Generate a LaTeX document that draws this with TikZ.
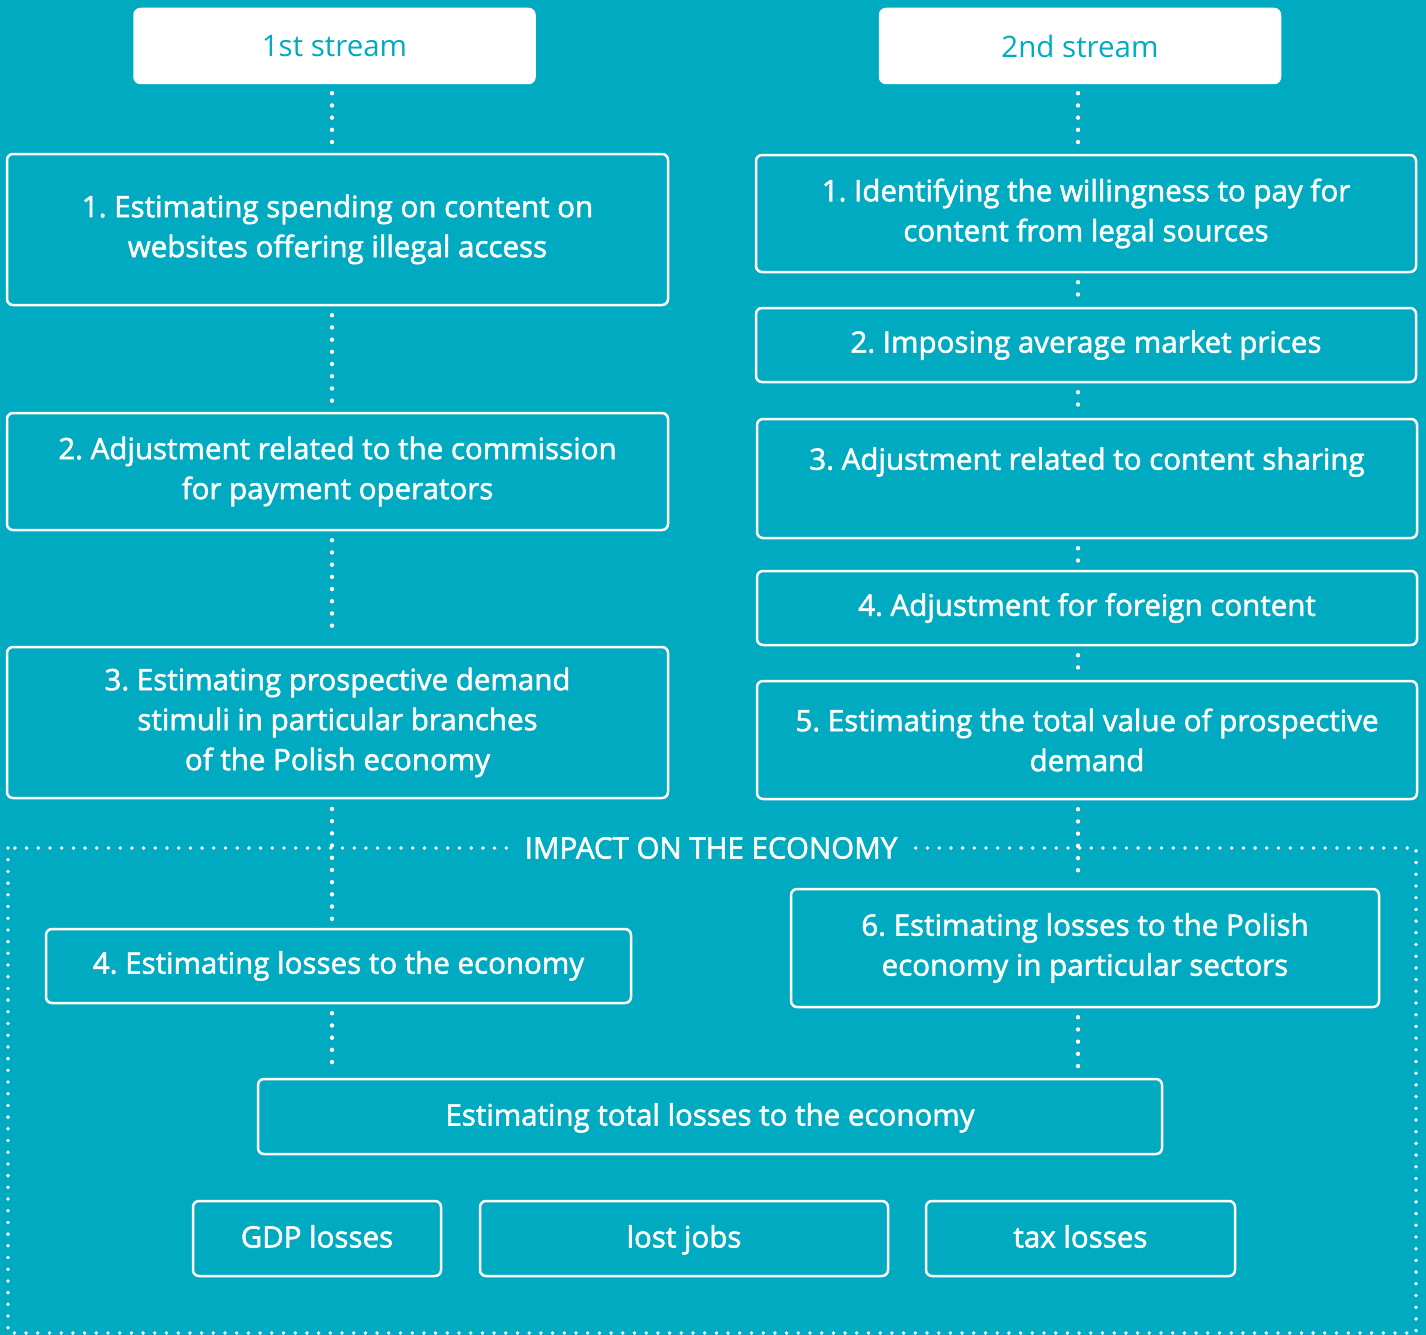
\documentclass[tikz,border=0pt]{standalone}
\usepackage{fontspec}
\setmainfont{Open Sans}[RawFeature={embolden=1.8}]
\newfontfamily\headfont{Open Sans}
\frenchspacing
\definecolor{bgteal}{HTML}{00ABC1}
\tikzset{box/.style 2 args={draw=white, line width=2.5pt, rounded corners=6pt,
                            text=white, align=center, inner sep=0pt,
                            minimum width=#1, minimum height=#2,
                            font=\fontsize{29.5}{40}\selectfont}}
\tikzset{head/.style={box={400}{74}, fill=white, text=bgteal,
                      font=\headfont\fontsize{29.5}{40}\selectfont}}
\tikzset{oneline/.style={text height=24pt, text depth=6pt}}
\tikzset{link/.style={draw=white, line width=4.4pt, line cap=round,
                      dash pattern=on 0pt off 12.2pt,
                      shorten <=9pt, shorten >=9pt}}
\tikzset{frame/.style={draw=white, line width=3.8pt, line cap=round,
                       dash pattern=on 0pt off 11.7pt}}
\begin{document}
\begin{tikzpicture}[x=1pt, y=-1pt]
                \fill[bgteal] (0,0) rectangle (1426,1335);
                \useasboundingbox (0,0) rectangle (1426,1335);

                \coordinate (lx) at (332,0);
                \coordinate (rx) at (1078,0);

                % impact frame
                \draw[frame] (8,848) rectangle (1416,1333);
                \node[fill=bgteal, inner xsep=14pt, text=white,
                      font=\fontsize{29.5}{40}\selectfont] (impact) at (711,848) {IMPACT ON THE ECONOMY};

                % 1st stream
                \node[head] (head1) at (334.5,46) {1st stream};
                \node[box={661}{151}] (l1) at (337.5,229.5) {1. Estimating spending on content on\\websites offering illegal access};
                \node[box={661}{117}] (l2) at (337.5,471.5) {2. Adjustment related to the commission\\for payment operators};
                \node[box={661}{151}] (l3) at (337.5,722.5) {3. Estimating prospective demand\\stimuli in particular branches\\of the Polish economy};
                \node[box={585}{74}] (l4) at (338.5,966) {4. Estimating losses to the economy};

                \draw[link] (head1.south -| lx) -- (l1.north -| lx);
                \draw[link] (l1.south -| lx) -- (l2.north -| lx);
                \draw[link] (l2.south -| lx) -- (l3.north -| lx);
                \draw[link] (l4.north -| lx) -- (l3.south -| lx);

                % 2nd stream
                \node[head] (head2) at (1080,46) {2nd stream};
                \node[box={660}{117}] (r1) at (1086,213.5) {1. Identifying the willingness to pay for\\content from legal sources};
                \node[box={660}{74}] (r2) at (1086,345) {2. Imposing average market prices};
                \node[box={660}{119}] (r3) at (1087,478.5) {3. Adjustment related to content sharing\\~};
                \node[box={660}{74}] (r4) at (1087,608) {4. Adjustment for foreign content};
                \node[box={660}{118}] (r5) at (1087,740) {5. Estimating the total value of prospective\\demand};
                \node[box={588}{118}] (r6) at (1085,948) {6. Estimating losses to the Polish\\economy in particular sectors};

                \draw[link] (head2.south -| rx) -- (r1.north -| rx);
                \draw[link] (r1.south -| rx) -- (r2.north -| rx);
                \draw[link] (r2.south -| rx) -- (r3.north -| rx);
                \draw[link] (r3.south -| rx) -- (r4.north -| rx);
                \draw[link] (r4.south -| rx) -- (r5.north -| rx);
                \draw[link] (r5.south -| rx) -- (r6.north -| rx);

                % totals
                \node[box={904}{75}, oneline] (total) at (710,1116.5) {Estimating total losses to the economy};
                \node[box={248}{75}, oneline] (gdp) at (317,1238.5) {GDP losses};
                \node[box={408}{75}, oneline] (jobs) at (684,1238.5) {lost jobs};
                \node[box={309}{75}, oneline] (tax) at (1080.5,1238.5) {tax losses};

                \draw[link] (l4.south -| lx) -- (total.north -| lx);
                \draw[link] (r6.south -| rx) -- (total.north -| rx);
            \end{tikzpicture}
\end{document}
